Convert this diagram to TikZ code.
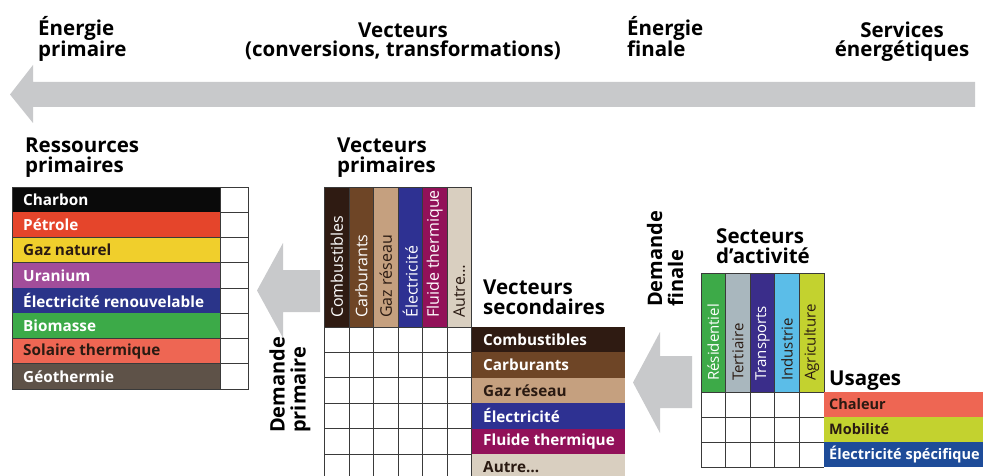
\documentclass[tikz,border=0pt]{standalone}
\usepackage{fontspec}
\setmainfont{Open Sans}
\usetikzlibrary{positioning}
\definecolor{arrowgray}{HTML}{C8C9CB}
\definecolor{gridgray}{HTML}{3A3A3A}
\definecolor{darktxt}{HTML}{2A1A12}
\definecolor{charbon}{HTML}{0A0A0A}
\definecolor{petrole}{HTML}{E5452B}
\definecolor{gaznat}{HTML}{F0CF2C}
\definecolor{uranium}{HTML}{A24D9A}
\definecolor{elecren}{HTML}{2A3489}
\definecolor{biomasse}{HTML}{3CAA48}
\definecolor{solaire}{HTML}{EE6653}
\definecolor{geotherm}{HTML}{5E5248}
\definecolor{combust}{HTML}{2F1B12}
\definecolor{carbur}{HTML}{6E4526}
\definecolor{gazres}{HTML}{C5A07F}
\definecolor{elec}{HTML}{2E3192}
\definecolor{fluide}{HTML}{921159}
\definecolor{autre}{HTML}{D9CFC0}
\definecolor{resid}{HTML}{3DAA48}
\definecolor{tertiaire}{HTML}{A9B7BE}
\definecolor{transp}{HTML}{3A2D8A}
\definecolor{industrie}{HTML}{5BBDE8}
\definecolor{agri}{HTML}{C3D22F}
\definecolor{elecspec}{HTML}{1E4C99}

\begin{document}
\begin{tikzpicture}[x=1pt,y=-1pt,
  toptitle/.style={font=\fontsize{20.5}{19.5}\selectfont\bfseries,align=left,inner sep=0pt,anchor=base west},
  blocktitle/.style={font=\fontsize{20.5}{20}\selectfont\bfseries,align=left,inner sep=0pt,anchor=base west},
  rowlab/.style={font=\fontsize{15.3}{15}\selectfont\bfseries,inner sep=0pt,anchor=west},
  colhead/.style={font=\fontsize{16}{16}\selectfont,rotate=90,inner sep=0pt,anchor=west},
  gridline/.style={draw=gridgray,line width=0.7pt},
  arrowfill/.style={fill=arrowgray}]
\useasboundingbox (0,0) rectangle (983,476);

% sens du raisonnement
\node[toptitle] (tprim) at (38,57) {Énergie\\primaire};
\node[toptitle,align=center,anchor=base] (tvect) at (403,57) {Vecteurs\\(conversions, transformations)};
\node[toptitle] (tfin) at (627,57) {Énergie\\finale};
\node[toptitle,align=center,anchor=base] (tserv) at (902,57) {Services\\énergétiques};
\fill[arrowfill] (975,82) -- (33,82) -- (33,65) -- (10,94.5) -- (33,123) -- (33,107) -- (975,107) -- cycle;

% ressources primaires
\node[blocktitle] (ressources) at (25,172) {Ressources\\primaires};
\foreach \lab/\col/\tc [count=\i from 0] in {Charbon/charbon/white,Pétrole/petrole/white,
    Gaz naturel/gaznat/darktxt,Uranium/uranium/white,Électricité renouvelable/elecren/white,
    Biomasse/biomasse/white,Solaire thermique/solaire/darktxt,Géothermie/geotherm/white}{
  \fill[\col] (12,187+\i*25.25) rectangle (220,212.25+\i*25.25);
  \node[rowlab,text=\tc] (res\i) at (23,199.6+\i*25.25) {\lab};
  \draw[gridline] (12,212.25+\i*25.25) -- (248,212.25+\i*25.25);
}
\draw[gridline] (12,187) rectangle (248,389) (220,187) -- (220,389);

\fill[arrowfill] (320,270) -- (283,270) -- (283,243) -- (257,290.5) -- (283,338) -- (283,312) -- (320,312) -- cycle;
\node[font=\fontsize{20}{21}\selectfont\bfseries,rotate=90,align=left,inner sep=0pt,anchor=west] (dprim) at (290,433) {Demande\\primaire};

% vecteurs primaires
\node[blocktitle] (vprim) at (337,172) {Vecteurs\\primaires};
\foreach \lab/\col/\tc [count=\i from 0] in {Combustibles/combust/white,Carburants/carbur/white,
    Gaz réseau/gazres/darktxt,Électricité/elec/white,Fluide thermique/fluide/white,Autre…/autre/darktxt}{
  \fill[\col] (324.5+\i*24.5,187) rectangle (349+\i*24.5,327);
  \node[colhead,text=\tc] (vp\i) at (336.75+\i*24.5,318) {\lab};
}
\foreach \i in {0,...,6}
  \draw[gridline] (324.5+\i*24.5,187) -- (324.5+\i*24.5,480);
\draw[gridline] (324.5,187) -- (471.5,187);
\foreach \i in {0,...,5}
  \draw[gridline] (324.5,327+\i*25.4) -- (471.5,327+\i*25.4);

% vecteurs secondaires
\node[blocktitle] (vsec) at (483,314) {Vecteurs\\secondaires};
\foreach \lab/\col/\tc [count=\i from 0] in {Combustibles/combust/white,Carburants/carbur/white,
    Gaz réseau/gazres/darktxt,Électricité/elec/white,Fluide thermique/fluide/white,Autre…/autre/darktxt}{
  \fill[\col] (471.5,327+\i*25.4) rectangle (625,352.4+\i*25.4);
  \node[rowlab,text=\tc] (vs\i) at (483,339.7+\i*25.4) {\lab};
}

\fill[arrowfill] (692,356) -- (660,356) -- (660,332) -- (633,382.5) -- (660,433) -- (660,408) -- (692,408) -- cycle;
\node[font=\fontsize{20}{21}\selectfont\bfseries,rotate=90,align=left,inner sep=0pt,anchor=west] (dfin) at (665,307) {Demande\\finale};

% secteurs d'activite
\node[blocktitle] (sect) at (716,263) {Secteurs\\d’activité};
\foreach \lab/\col/\tc [count=\i from 0] in {Résidentiel/resid/white,Tertiaire/tertiaire/darktxt,
    Transports/transp/white,Industrie/industrie/darktxt,Agriculture/agri/darktxt}{
  \fill[\col] (701+\i*24.6,273) rectangle (725.6+\i*24.6,392);
  \node[colhead,font=\fontsize{15}{15}\selectfont,text=\tc] (sa\i) at (713.3+\i*24.6,381) {\lab};
}
\foreach \i in {0,...,5}
  \draw[gridline] (701+\i*24.6,273) -- (701+\i*24.6,467);
\draw[gridline] (701,273) -- (824,273);
\foreach \i in {0,...,3}
  \draw[gridline] (701,392+\i*25) -- (824,392+\i*25);

% usages
\node[blocktitle] (usages) at (829,385) {Usages};
\foreach \lab/\col/\tc [count=\i from 0] in {Chaleur/solaire/darktxt,Mobilité/agri/darktxt,
    Électricité spécifique/elecspec/white}{
  \fill[\col] (824,392+\i*25) rectangle (983,417+\i*25);
  \node[rowlab,font=\fontsize{14.5}{14}\selectfont\bfseries,text=\tc] (us\i) at (829,404.5+\i*25) {\lab};
}
\end{tikzpicture}
\end{document}
